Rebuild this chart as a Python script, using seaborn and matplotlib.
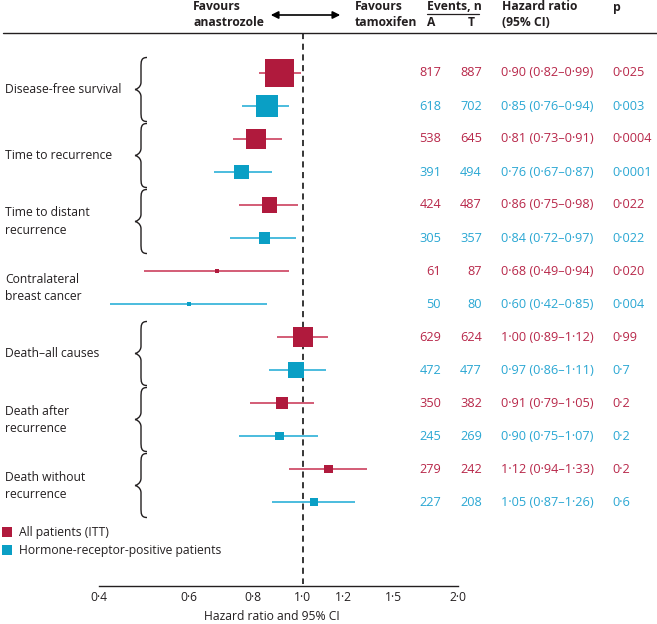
import numpy as np
import pandas as pd
import seaborn as sns
import matplotlib.pyplot as plt
import matplotlib.transforms as mtransforms
from matplotlib.path import Path
from matplotlib.patches import PathPatch
from matplotlib.lines import Line2D
from matplotlib.ticker import NullLocator

# data
outcomes = ['Disease-free survival', 'Time to recurrence', 'Time to distant\nrecurrence',
            'Contralateral\nbreast cancer', 'Death\u2013all causes', 'Death after\nrecurrence',
            'Death without\nrecurrence']
has_brace = [True, True, True, False, True, True, True]

itt_a = [817, 538, 424, 61, 629, 350, 279]
itt_t = [887, 645, 487, 87, 624, 382, 242]
itt_hr = [0.90, 0.81, 0.86, 0.68, 1.00, 0.91, 1.12]
itt_lo = [0.82, 0.73, 0.75, 0.49, 0.89, 0.79, 0.94]
itt_hi = [0.99, 0.91, 0.98, 0.94, 1.12, 1.05, 1.33]
itt_p = ['0\u00b7025', '0\u00b70004', '0\u00b7022', '0\u00b7020', '0\u00b799', '0\u00b72', '0\u00b72']

hrp_a = [618, 391, 305, 50, 472, 245, 227]
hrp_t = [702, 494, 357, 80, 477, 269, 208]
hrp_hr = [0.85, 0.76, 0.84, 0.60, 0.97, 0.90, 1.05]
hrp_lo = [0.76, 0.67, 0.72, 0.42, 0.86, 0.75, 0.87]
hrp_hi = [0.94, 0.87, 0.97, 0.85, 1.11, 1.07, 1.26]
hrp_p = ['0\u00b7003', '0\u00b70001', '0\u00b7022', '0\u00b7004', '0\u00b77', '0\u00b72', '0\u00b76']

groups = ['All patients (ITT)', 'Hormone-receptor-positive patients']
tick_vals = [0.4, 0.6, 0.8, 1.0, 1.2, 1.5, 2.0]
tick_labels = ['0\u00b74', '0\u00b76', '0\u00b78', '1\u00b70', '1\u00b72', '1\u00b75', '2\u00b70']

rows = []
for i in range(len(outcomes)):
    rows.append(dict(group=groups[0], row=2 * i, a=itt_a[i], t=itt_t[i], hr=itt_hr[i],
                     lo=itt_lo[i], hi=itt_hi[i], p=itt_p[i]))
    rows.append(dict(group=groups[1], row=2 * i + 1, a=hrp_a[i], t=hrp_t[i], hr=hrp_hr[i],
                     lo=hrp_lo[i], hi=hrp_hi[i], p=hrp_p[i]))
df = pd.DataFrame(rows)

sq_col = {groups[0]: '#B01A3D', groups[1]: '#0A9FC5'}
ln_col = {groups[0]: '#D04F6B', groups[1]: '#3DB6DB'}
tx_col = {groups[0]: '#B8284A', groups[1]: '#2AA7D3'}
dark = '#231F20'

sns.set_style('white')
plt.rcParams['font.family'] = ['Open Sans', 'DejaVu Sans']
fs = 8.7
fs_tab = 9.2

W, H = 657, 624
fig = plt.figure(figsize=(W / 100, H / 100), dpi=100)
ax = fig.add_axes([0, 0, 1, 1])
ax.set_xscale('log')
ax.set_xlim(np.exp(-303 / 223), np.exp(354 / 223))


def row_of(ypx):
    return (ypx - 73) / 33


ax.set_ylim(row_of(H), row_of(0))
trans = mtransforms.blended_transform_factory(ax.transAxes, ax.transData)

# CI lines and squares (square side grows with total events)
ax.hlines(df['row'], df['lo'], df['hi'], colors=df['group'].map(ln_col), lw=1.3, zorder=2)
side_px = np.maximum((df['a'] + df['t']) / 60, 4.5)
sns.scatterplot(data=df, x='hr', y='row', hue='group', palette=sq_col, marker='s',
                s=(side_px * 0.72) ** 2, linewidth=0, legend=False, zorder=3, ax=ax)

ax.vlines(1.0, row_of(33), row_of(584), colors='k', linestyles=(0, (4, 3)), lw=1.1, zorder=1)

# axis
for s in ['top', 'left', 'right']:
    ax.spines[s].set_visible(False)
ax.spines['bottom'].set_position(('data', row_of(586)))
ax.spines['bottom'].set_bounds(0.4, 2.0)
ax.spines['bottom'].set_color(dark)
ax.spines['bottom'].set_linewidth(1.0)
ax.set_xticks(tick_vals)
ax.set_xticklabels(tick_labels)
ax.xaxis.set_minor_locator(NullLocator())
ax.tick_params(axis='x', direction='in', length=4, width=1.0, colors=dark, labelsize=fs, pad=3.5)
ax.set_yticks([])
ax.set_ylabel('')
ax.set_xlabel('Hazard ratio and 95% CI', fontsize=fs, color=dark)
ax.xaxis.set_label_coords(272 / W, 1 - 617 / H)
ax.xaxis.label.set_va('center')

# table columns
for _, r in df.iterrows():
    c = tx_col[r['group']]
    hr_txt = f"{r['hr']:.2f} ({r['lo']:.2f}\u2013{r['hi']:.2f})".replace('.', '\u00b7')
    ax.text(441 / W, r['row'], str(r['a']), transform=trans, ha='right', va='center', fontsize=fs_tab, color=c)
    ax.text(482 / W, r['row'], str(r['t']), transform=trans, ha='right', va='center', fontsize=fs_tab, color=c)
    ax.text(501 / W, r['row'], hr_txt, transform=trans, ha='left', va='center', fontsize=fs_tab, color=c)
    ax.text(612 / W, r['row'], r['p'], transform=trans, ha='left', va='center', fontsize=fs_tab, color=c)


def brace(yc, half=0.97, x0=135, x1=147):
    xm = (x0 + x1) / 2
    yt, yb = yc - half, yc + half
    pts = [(x1, yt), (xm, yt), (xm, yt + 0.12), (xm, yt + 0.3),
           (xm, yc - 0.22),
           (xm, yc - 0.06), (x0 + 1, yc), (x0, yc),
           (x0 + 1, yc), (xm, yc + 0.06), (xm, yc + 0.22),
           (xm, yb - 0.3),
           (xm, yb - 0.12), (xm, yb), (x1, yb)]
    codes = [Path.MOVETO, Path.CURVE4, Path.CURVE4, Path.CURVE4, Path.LINETO,
             Path.CURVE4, Path.CURVE4, Path.CURVE4, Path.CURVE4, Path.CURVE4, Path.CURVE4,
             Path.LINETO, Path.CURVE4, Path.CURVE4, Path.CURVE4]
    pts = [(x / W, y) for x, y in pts]
    ax.add_patch(PathPatch(Path(pts, codes), transform=trans, fill=False, lw=1.0,
                           edgecolor=dark, clip_on=False))


for i, lab in enumerate(outcomes):
    ax.text(5 / W, 2 * i + 0.5, lab, transform=trans, ha='left', va='center',
            fontsize=fs, color=dark, linespacing=1.4)
    if has_brace[i]:
        brace(2 * i + 0.5)

# header
hdr = dict(fontsize=fs, color=dark, fontweight='bold', va='center')
fig.text(193 / W, 1 - 7 / H, 'Favours', **hdr)
fig.text(193 / W, 1 - 23 / H, 'anastrozole', **hdr)
fig.text(355 / W, 1 - 7 / H, 'Favours', **hdr)
fig.text(355 / W, 1 - 23 / H, 'tamoxifen', **hdr)
fig.text(427 / W, 1 - 7 / H, 'Events, n', **hdr)
fig.text(427 / W, 1 - 23 / H, 'A', **hdr)
fig.text(468 / W, 1 - 23 / H, 'T', **hdr)
fig.text(502 / W, 1 - 7 / H, 'Hazard ratio', **hdr)
fig.text(502 / W, 1 - 23 / H, '(95% CI)', **hdr)
fig.text(613 / W, 1 - 7 / H, 'p', **hdr)
ax.annotate('', xy=(343 / W, 1 - 15 / H), xytext=(268 / W, 1 - 15 / H),
            xycoords='figure fraction', textcoords='figure fraction',
            arrowprops=dict(arrowstyle='<|-|>', color='k', lw=1.2, mutation_scale=11))
fig.add_artist(Line2D([427 / W, 479 / W], [1 - 14 / H] * 2, color=dark, lw=0.9))
fig.add_artist(Line2D([3 / W, 1], [1 - 33 / H] * 2, color=dark, lw=1.0))

# legend
handles = [Line2D([], [], marker='s', ls='none', markersize=6.5, markeredgewidth=0,
                  color=sq_col[g]) for g in groups]
fig.legend(handles, groups, loc='upper left', bbox_to_anchor=(2 / W, 1 - 526 / H),
           frameon=False, fontsize=fs, handlelength=0.9, handletextpad=0.5,
           borderpad=0, borderaxespad=0, labelspacing=0.42, labelcolor=dark)

fig.savefig('out.png', dpi=100)
